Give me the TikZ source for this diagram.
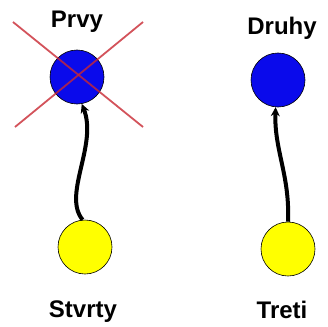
\documentclass[tikz,border=0pt]{standalone}
\usepackage{fontspec}
\setmainfont{Liberation Sans}
\usetikzlibrary{arrows.meta}
\definecolor{ballblue}{RGB}{10,10,235}
\definecolor{ballyellow}{RGB}{255,255,0}
\definecolor{crossred}{RGB}{200,40,50}
\tikzset{
  ball/.style={circle,draw=black,line width=0.6pt,minimum size=54pt,inner sep=0pt},
  blueball/.style={ball,fill=ballblue},
  yellowball/.style={ball,fill=ballyellow},
  lbl/.style={font=\fontsize{24}{26}\selectfont\bfseries,inner sep=0pt},
  link/.style={line width=4pt,-{Stealth[length=9pt,width=9pt]}},
  cross/.style={crossred,line width=1.8pt,opacity=0.8}
}
\begin{document}
\begin{tikzpicture}[x=1pt,y=-1pt]
\useasboundingbox (0,0) rectangle (328,326);
\node[blueball] (p) at (77,77) {};
\node[blueball] (d) at (278,80) {};
\node[yellowball] (s) at (85,247) {};
\node[yellowball] (t) at (288,249) {};
\node[lbl] (lp) at (77,22) {Prvy};
\node[lbl] (ld) at (282,28) {Druhy};
\node[lbl] (ls) at (83,312) {Stvrty};
\node[lbl] (lt) at (282,310) {Treti};
\draw[link] (s.95) .. controls (62,195) and (98,145) .. (p.-80);
\draw[link] (t.north) .. controls (290,175) and (274,150) .. (d.-95);
\coordinate (x1) at (13,22);
\coordinate (x2) at (143,127);
\coordinate (x3) at (143,22);
\coordinate (x4) at (15,127);
\draw[cross] (x1) -- (x2);
\draw[cross] (x3) -- (x4);
\end{tikzpicture}
\end{document}
